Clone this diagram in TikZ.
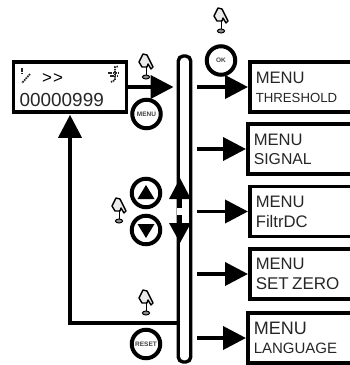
\documentclass[tikz,border=0pt]{standalone}
\usepackage{fontspec}
\setmainfont{Liberation Sans}
\usetikzlibrary{arrows.meta}
\usetikzlibrary{calc}
\tikzset{>={Triangle[length=23pt,width=23pt]}}
\tikzset{
	lcdbox/.style={draw,line width=3.6pt,inner sep=0pt,minimum width=113pt,minimum height=50pt},
	menubox/.style={draw,line width=3.6pt,anchor=west,align=left,inner sep=0pt,inner xsep=6pt,text width=100pt,minimum height=50pt,text=black!85},
	keyring/.style={circle,draw,line width=4pt,minimum size=28.5pt,inner sep=0pt,font=\bfseries\fontsize{6.5}{7}\selectfont,text=black!75},
	flow/.style={->,line width=3.8pt},
	pixeldots/.style={line width=1.7pt,black!85,dash pattern=on 1.6pt off .8pt},
	pics/handicon/.style={code={
		\draw[line width=1.4pt,fill=black!8,line join=round] (-6,-17)--(-3,-23)--(1,-22)--(7,-10)--(5,-8)--(2,-13)--(1,-10)--(-4,-10)--(-7,-15)--cycle;
		\draw[line width=1.6pt] (0.5,-11)--(0.5,-2);
		\draw[line width=1pt,fill=black!45] (0,0) ellipse (3.6 and 2);
	}}
}
\newcommand{\menutext}[3]{\fontsize{#1}{21}\selectfont MENU\\[7pt]\fontsize{#2}{21}\selectfont #3}
\begin{document}
\begin{tikzpicture}[x=1pt,y=-1pt,line cap=butt]
	\useasboundingbox (0,0) rectangle (350,365);
	\clip (0,0) rectangle (350,365);
	% display
	\node[lcdbox] (lcd) at (70,87) {};
	\node[anchor=base west,inner sep=0pt,text=black!85,font=\fontsize{18.9}{20}\selectfont] (count) at (19.5,106) {00000999};
	\node[anchor=base west,inner sep=0pt,font=\fontsize{17}{18}\selectfont] (mode) at (42,83) {>\kern1pt>};
	\draw[pixeldots] (22,68)--(22,75);
	\draw[pixeldots] (30,74)--(22,83);
	\draw[pixeldots] (118,66.5)--(115,67)--(115,80)--(111,82);
	\draw[pixeldots] (108,73)--(119,73);
	\draw[pixeldots] (110,76)--(118,76);
	% rail
	\node[draw,line width=3.4pt,rounded corners=5pt,minimum width=12.5pt,minimum height=306pt,inner sep=0pt] (rail) at (184.5,209) {};
	\fill[white] (177,208) rectangle (183,215);
	% menus
	\node[menubox] (thr) at (248,87) {\menutext{16.6}{13.2}{THRESHOLD}};
	\node[menubox] (sig) at (246,149) {\menutext{16.6}{15.8}{SIGNAL}};
	\node[menubox] (fil) at (248,211.5) {\menutext{16.6}{16.7}{FiltrDC}};
	\node[menubox] (zer) at (248,274) {\menutext{16.6}{17}{SET ZERO}};
	\node[menubox] (lan) at (246,338) {\menutext{18}{15}{LANGUAGE}};
	% arrows
	\draw[flow,shorten >=3pt] (lcd.east) -- (rail.west |- lcd.east);
	\foreach \target in {thr,sig,fil,zer,lan}
		\draw[flow] ([xshift=5pt]rail.east |- \target.west) -- (\target.west);
	\coordinate (back) at (rail.west |- 0,323);
	\draw[flow,line join=miter,shorten >=1pt] (back) -- (lcd.south |- back) -- (lcd.south);
	\draw[->,line width=3.4pt,>={Triangle[length=21pt,width=21pt]}] (180,208) -- (180,178);
	\draw[->,line width=3.4pt,>={Triangle[length=20pt,width=21pt]}] (180,215) -- (180,243);
	% keys
	\node[keyring] (menu) at (146.5,114) {MENU};
	\node[keyring] (ok) at (221,60.5) {OK};
	\node[keyring] (up) at (146,193) {};
	\node[keyring] (down) at (146,230) {};
	\node[keyring] (reset) at (146,344) {RESET};
	\fill ($(up)+(0,-8)$) -- ($(up)+(8.5,6)$) -- ($(up)+(-8.5,6)$) -- cycle;
	\fill ($(down)+(0,8)$) -- ($(down)+(8.5,-6)$) -- ($(down)+(-8.5,-6)$) -- cycle;
	% hands
	\pic at (146,77) {handicon};
	\pic at (221,31) {handicon};
	\pic at (119,221) {handicon};
	\pic at (146,313) {handicon};
\end{tikzpicture}
\end{document}
